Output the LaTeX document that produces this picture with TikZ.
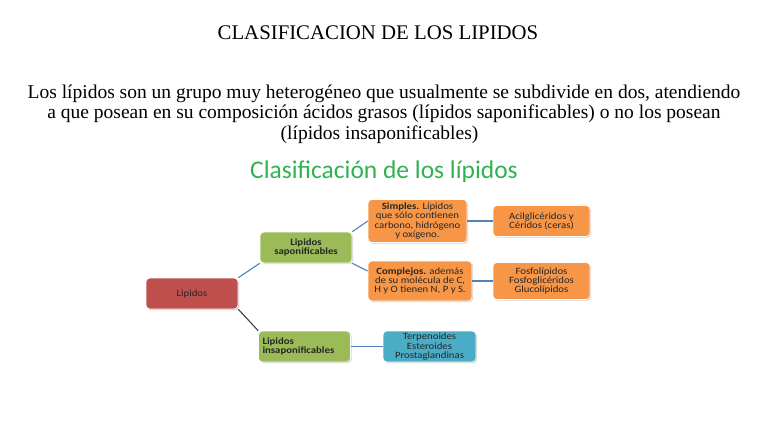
\documentclass[tikz,border=0pt]{standalone}
\usepackage{fontspec}
\setmainfont{Liberation Serif}
\newfontfamily\calib{Carlito}
\newfontfamily\calibw[FakeStretch=1.12]{Carlito}
\usetikzlibrary{shadows}
\definecolor{redbox}{HTML}{C0504D}
\definecolor{greenbox}{HTML}{9BBB59}
\definecolor{orangebox}{HTML}{F79646}
\definecolor{bluebox}{HTML}{4BACC6}
\definecolor{conn}{HTML}{4F81BD}
\definecolor{titlegreen}{HTML}{2EB350}
\tikzset{
  box/.style={rectangle, rounded corners=4pt, draw=white, line width=0.6pt,
    align=center, font=\calibw\fontsize{9.6}{9.2}\selectfont, text=black!85,
    inner sep=1pt,
    drop shadow={opacity=0.35, shadow xshift=1.2pt, shadow yshift=-1.2pt}},
  redb/.style={box, fill=redbox, minimum width=92pt, minimum height=31pt},
  greenb/.style={box, fill=greenbox, minimum width=92pt, minimum height=31pt},
  orangeb/.style={box, fill=orangebox},
  blueb/.style={box, fill=bluebox, minimum width=93pt, minimum height=31pt},
  link/.style={draw=conn, line width=1.1pt},
  darklink/.style={draw=black!75, line width=1.1pt}
}
\begin{document}
\begin{tikzpicture}[x=1pt,y=-1pt]
\useasboundingbox (0,0) rectangle (768,433);
\node (title) at (378,33) {\fontsize{20.8}{23}\selectfont CLASIFICACION DE LOS LIPIDOS};
\node[align=center, font=\fontsize{19.5}{20.5}\selectfont] (para) at (384,114)
  {Los lípidos son un grupo muy heterogéneo que usualmente se subdivide en dos, atendiendo\\
   a que posean en su composición ácidos grasos (lípidos saponificables) o no los posean\\
   (lípidos insaponificables)\rule{9pt}{0pt}};
\node[text=titlegreen, font=\calib\fontsize{25.5}{28}\selectfont] (sub) at (384,172) {Clasificación de los lípidos};

\node[redb] (lip) at (192,293.5) {Lipidos};
\node[greenb] (sap) at (306,247.5) {\bfseries Lipidos\\\bfseries saponificables};
\node[greenb, align=left, text width=84pt] (insap) at (304.5,346.5) {\bfseries Lipidos\\\bfseries insaponificables};
\node[orangeb, minimum width=99pt, minimum height=43pt] (simp) at (417.5,221)
  {\textbf{Simples.} Lípidos\\que sólo contienen\\carbono, hidrógeno\\y oxígeno.};
\node[orangeb, minimum width=104pt, minimum height=40pt] (comp) at (420,281)
  {\textbf{Complejos.} además\\de su molécula de C,\\H y O tienen N, P y S.};
\node[orangeb, minimum width=97pt, minimum height=31pt] (acil) at (541.5,221)
  {Acilglicéridos y\\Céridos (ceras)};
\node[orangeb, minimum width=97pt, minimum height=37pt] (fosf) at (541.5,281)
  {Fosfolípidos\\Fosfoglicéridos\\Glucolípidos};
\node[blueb] (terp) at (429.5,346.5) {Terpenoides\\Esteroides\\Prostaglandinas};

\draw[link] (lip.north east) -- (sap.south west);
\draw[darklink] (lip.south east) -- (insap.north west);
\draw[link] (sap.north east) -- (simp.west);
\draw[link] (sap.south east) -- ([yshift=10pt]comp.west);
\draw[link] (simp.east) -- (acil.west);
\draw[link] (comp.east) -- (fosf.west);
\draw[link] (insap.east) -- (terp.west);
\end{tikzpicture}
\end{document}
